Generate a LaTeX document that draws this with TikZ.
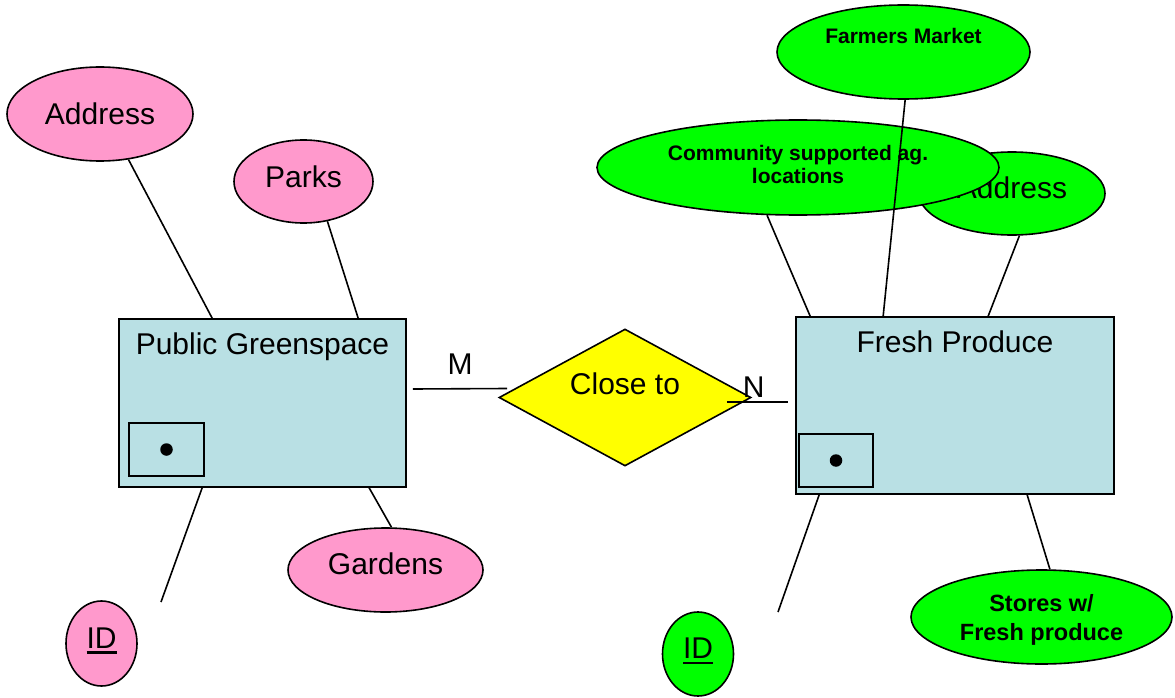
\documentclass[tikz,border=0pt]{standalone}
\usepackage{fontspec}
\setmainfont{Liberation Sans}
\usetikzlibrary{shapes.geometric,calc}

\definecolor{attrpink}{RGB}{255,153,204}
\definecolor{attrgreen}{RGB}{0,255,0}
\definecolor{entityblue}{RGB}{185,224,228}
\definecolor{relyellow}{RGB}{255,255,0}

% key attribute: text with a heavy underline
\newcommand{\keyul}[1]{\setbox0\hbox{#1}\rlap{\vrule height -3pt depth 5.5pt width \wd0}\box0}

\begin{document}
\begin{tikzpicture}[x=1pt,y=-1pt,
  big/.style={font=\fontsize{30}{36}\selectfont},
  small/.style={font=\fontsize{21}{23}\selectfont\bfseries},
  attr/.style={ellipse,draw=black,line width=1.6pt,inner sep=0pt,big},
  entity/.style={rectangle,draw=black,line width=1.7pt,fill=entityblue,inner sep=0pt},
  keybox/.style={rectangle,draw=black,line width=1.5pt,inner sep=0pt},
  keydot/.style={circle,fill=black,inner sep=0pt,minimum size=12.5pt},
  link/.style={line width=1.6pt},
  card/.style={big,anchor=base}]

\useasboundingbox (0,0) rectangle (1175,698);

% ---- Public Greenspace and its attributes ----
\node[attr,fill=attrpink,minimum width=186pt,minimum height=94pt] (addr) at (100,114) {Address};
\node[attr,fill=attrpink,minimum width=139pt,minimum height=83pt,text height=22pt,text depth=9.5pt] (parks) at (303.5,181.5) {Parks};
\node[attr,fill=attrpink,minimum width=195pt,minimum height=84pt,text height=22pt,text depth=12.5pt] (gardens) at (385.5,570) {Gardens};
\node[attr,fill=attrpink,minimum width=71pt,minimum height=85pt,text height=22pt,text depth=12.5pt] (pid) at (101.5,643.5) {\keyul{ID}};

\node[entity,minimum width=287pt,minimum height=168pt] (pg) at (262.5,403) {};
\node[big,anchor=base] (pgtitle) at ($(pg.north)+(0,36)$) {Public Greenspace};
\node[keybox,minimum width=75pt,minimum height=53pt] (pgkey) at (166.5,449.5) {};
\node[keydot] (pgdot) at (pgkey.center) {};

% ---- relationship ----
\node[diamond,draw=black,line width=1.6pt,fill=relyellow,inner sep=0pt,
      minimum width=252pt,minimum height=137pt] (rel) at (625,397.5) {};
\node[big,anchor=base] (reltext) at ($(rel.center)+(0,-3.5)$) {Close to};

% ---- Fresh Produce and its attributes ----
\node[attr,fill=attrgreen,minimum width=186pt,minimum height=83pt,text height=22pt,text depth=11.5pt] (faddr) at (1012,193.5) {Address};
\node[attr,small,fill=attrgreen,align=center,minimum width=402pt,minimum height=95pt] (csa) at (798,167.5) {Community supported ag.\\locations\rule[-7pt]{0pt}{1pt}};
\node[attr,small,fill=attrgreen,minimum width=253pt,minimum height=94pt,text height=15.5pt,text depth=32pt] (fm) at (903.5,52) {Farmers Market};
\node[attr,fill=attrgreen,align=center,minimum width=261pt,minimum height=94pt,
      font=\fontsize{23.5}{28.5}\selectfont\bfseries] (stores) at (1041.5,617) {\rule{0pt}{23pt}Stores w/\\Fresh produce};
\node[attr,fill=attrgreen,minimum width=71pt,minimum height=84pt,text height=22pt,text depth=12.5pt] (fid) at (698,654) {\keyul{ID}};

\node[entity,minimum width=318pt,minimum height=177pt] (fp) at (955,405.5) {};
\node[big,anchor=base] (fptitle) at ($(fp.north)+(0,36)$) {Fresh Produce};
\node[keybox,minimum width=74pt,minimum height=53pt] (fpkey) at (836,460.5) {};
\node[keydot] (fpdot) at (fpkey.center) {};

% free ends of the ID connectors
\coordinate (pgidend) at (161,602);
\coordinate (fpidend) at (778,612);

% ---- connectors ----
\draw[link] (addr.-58) -- ($(pg.north west)+(94,0)$);
\draw[link] (parks.-59) -- ($(pg.north west)+(240,0)$);
\draw[link] ($(pg.south west)+(84,0)$) -- (pgidend);
\draw[link] ($(pg.south west)+(251,0)$) -- (gardens.82);

\draw[link] ($(pg.east)+(6,-14)$) -- node[card,pos=0.5,yshift=14pt] (mlabel) {M} ($(rel.west)+(9,-9)$);
\draw[link] ($(rel.east)+(-25,4.5)$) -- node[card,pos=0.44,yshift=5pt] (nlabel) {N} ($(fp.west)+(-7,-3.5)$);

\draw[link] (csa.-123) -- ($(fp.north west)+(15,0)$);
\draw[link] (fm.-88) -- ($(fp.north west)+(88,0)$);
\draw[link] (faddr.-80) -- ($(fp.north west)+(193,0)$);
\draw[link] ($(fp.south west)+(24,0)$) -- (fpidend);
\draw[link] ($(fp.south west)+(232,0)$) -- (stores.80);

\end{tikzpicture}
\end{document}
